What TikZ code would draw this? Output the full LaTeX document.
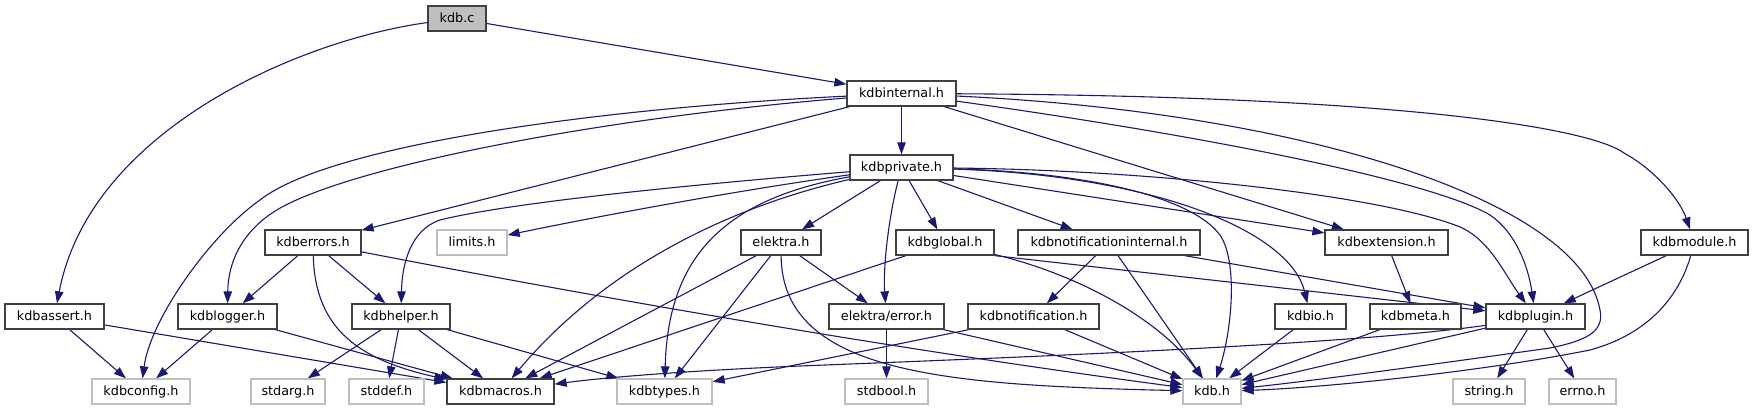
\documentclass[tikz,border=0pt]{standalone}
\usepackage{fontspec}
\setmainfont{DejaVu Sans}
\usetikzlibrary{arrows.meta}
\definecolor{edgecol}{HTML}{191970}
\definecolor{docborder}{HTML}{404040}
\definecolor{sysborder}{HTML}{BFBFBF}
\definecolor{rootfill}{HTML}{BFBFBF}
\pgfdeclarelayer{background}
\pgfsetlayers{background,main}
\begin{document}
\begin{tikzpicture}[x=1pt,y=-1pt,
  font=\fontsize{12.8}{15}\selectfont,
  box/.style={draw=docborder, line width=1.3pt, fill=white, inner sep=0pt,
    minimum height=25pt, text height=10.5pt, text depth=2pt},
  sys/.style={box, draw=sysborder},
  root/.style={box, fill=rootfill},
  edge/.style={draw=edgecol, line width=1.1pt, -{Triangle[length=12pt,width=8.5pt]}}]
\useasboundingbox (0,0) rectangle (1753,411);
% rank 0
\node[root, minimum width=58pt] (kdbc) at (457,18.5) {kdb.c};
% rank 1
\node[box, minimum width=109pt] (internal) at (901.5,93.5) {kdbinternal.h};
% rank 2
\node[box, minimum width=103pt] (private) at (901.5,167.5) {kdbprivate.h};
% rank 3
\node[box, minimum width=96pt] (errors) at (313,242.5) {kdberrors.h};
\node[sys, minimum width=70pt] (limits) at (472,242.5) {limits.h};
\node[box, minimum width=80pt] (elektra) at (781,242.5) {elektra.h};
\node[box, minimum width=98pt] (global) at (945,242.5) {kdbglobal.h};
\node[box, minimum width=182pt] (notifint) at (1109,242.5) {kdbnotificationinternal.h};
\node[box, minimum width=123pt] (extension) at (1386.5,242.5) {kdbextension.h};
\node[box, minimum width=107pt] (module) at (1694.5,242.5) {kdbmodule.h};
% rank 4
\node[box, minimum width=99pt] (assert) at (54.5,316.5) {kdbassert.h};
\node[box, minimum width=99pt] (logger) at (227.5,316.5) {kdblogger.h};
\node[box, minimum width=98pt] (helper) at (401,316.5) {kdbhelper.h};
\node[box, minimum width=115pt] (error) at (886.5,316.5) {elektra/error.h};
\node[box, minimum width=131pt] (notif) at (1033.5,316.5) {kdbnotification.h};
\node[box, minimum width=71pt] (io) at (1310.5,316.5) {kdbio.h};
\node[box, minimum width=91pt] (meta) at (1415.5,316.5) {kdbmeta.h};
\node[box, minimum width=99pt] (plugin) at (1535.5,316.5) {kdbplugin.h};
% rank 5
\node[sys, minimum width=98pt] (config) at (141,391.5) {kdbconfig.h};
\node[sys, minimum width=74pt] (stdarg) at (288,391.5) {stdarg.h};
\node[sys, minimum width=75pt] (stddef) at (386.5,391.5) {stddef.h};
\node[box, minimum width=107pt] (macros) at (500.5,391.5) {kdbmacros.h};
\node[sys, minimum width=95pt] (types) at (664.5,391.5) {kdbtypes.h};
\node[sys, minimum width=83pt] (stdbool) at (886.5,391.5) {stdbool.h};
\node[sys, minimum width=58pt] (kdbh) at (1212,391.5) {kdb.h};
\node[sys, minimum width=72pt] (string) at (1489,391.5) {string.h};
\node[sys, minimum width=67pt] (errno) at (1582.5,391.5) {errno.h};

\begin{pgfonlayer}{background}
% kdb.c
\draw[edge] (kdbc) -- (internal);
\draw[edge] (kdbc) .. controls (300,40) and (90,130) .. (assert);
% kdbinternal.h
\draw[edge] (internal) -- (private);
\draw[edge] (internal) .. controls (600,108) and (330,145) .. (260,200)
  .. controls (210,235) and (150,320) .. (config);
\draw[edge] (internal) .. controls (600,118) and (360,165) .. (282,207)
  .. controls (240,230) and (228,265) .. (logger);
\draw[edge] (internal) -- (errors);
\draw[edge] (internal) -- (extension);
\draw[edge] (internal) .. controls (1200,135) and (1430,180) .. (1490,215)
  .. controls (1515,232) and (1528,265) .. (plugin);
\draw[edge] (internal) .. controls (1300,112) and (1580,200) .. (1600,310)
  .. controls (1604,330) and (1590,340) .. (1550,348)
  .. controls (1450,362) and (1320,380) .. (kdbh);
\draw[edge] (internal) .. controls (1400,96) and (1590,128) .. (1624,153)
  .. controls (1655,170) and (1680,200) .. (module);
% kdbprivate.h
\draw[edge] (private) .. controls (650,188) and (500,205) .. (440,220)
  .. controls (410,230) and (402,265) .. (helper);
\draw[edge] (private) .. controls (720,193) and (580,220) .. (limits);
\draw[edge] (private) .. controls (760,200) and (620,250) .. (macros);
\draw[edge] (private) .. controls (720,200) and (668,260) .. (types);
\draw[edge] (private) -- (elektra);
\draw[edge] (private) .. controls (888,220) and (883,270) .. (error);
\draw[edge] (private) -- (global);
\draw[edge] (private) -- (notifint);
\draw[edge] (private) -- (extension);
\draw[edge] (private) .. controls (1150,175) and (1290,230) .. (io);
\draw[edge] (private) .. controls (1080,172) and (1190,195) .. (1220,235)
  .. controls (1238,262) and (1232,330) .. (kdbh);
\draw[edge] (private) .. controls (1150,170) and (1380,195) .. (1460,227)
  .. controls (1490,240) and (1505,275) .. (plugin);
% kdberrors.h
\draw[edge] (errors) -- (logger);
\draw[edge] (errors) -- (helper);
\draw[edge] (errors) .. controls (315,330) and (360,360) .. (macros);
\draw[edge] (errors) .. controls (600,298) and (900,350) .. (kdbh);
% kdbassert.h, kdblogger.h
\draw[edge] (assert) -- (config);
\draw[edge] (assert) -- (macros);
\draw[edge] (logger) -- (config);
\draw[edge] (logger) -- (macros);
% kdbhelper.h
\draw[edge] (helper) -- (stdarg);
\draw[edge] (helper) -- (stddef);
\draw[edge] (helper) -- (macros);
\draw[edge] (helper) -- (types);
% elektra.h
\draw[edge] (elektra) -- (macros);
\draw[edge] (elektra) -- (types);
\draw[edge] (elektra) -- (error);
\draw[edge] (elektra) .. controls (782,375) and (950,385) .. (kdbh);
% elektra/error.h
\draw[edge] (error) -- (stdbool);
\draw[edge] (error) -- (kdbh);
% kdbglobal.h
\draw[edge] (global) -- (macros);
\draw[edge] (global.south east) -- (plugin);
\draw[edge] (global) .. controls (1080,275) and (1160,320) .. (kdbh);
% kdbnotificationinternal.h
\draw[edge] (notifint) -- (notif);
\draw[edge] (notifint) -- (kdbh);
\draw[edge] (notifint) -- (plugin);
% kdbnotification.h
\draw[edge] (notif) -- (types);
\draw[edge] (notif) -- (kdbh);
% kdbextension.h, kdbmeta.h, kdbio.h
\draw[edge] (extension) -- (meta);
\draw[edge] (meta) -- (kdbh);
\draw[edge] (io) -- (kdbh);
% kdbplugin.h
\draw[edge] (plugin.190) .. controls (1350,345) and (1000,358) .. (800,366)
  .. controls (680,371) and (600,378) .. (macros);
\draw[edge] (plugin) -- (kdbh);
\draw[edge] (plugin) -- (string);
\draw[edge] (plugin) -- (errno);
% kdbmodule.h
\draw[edge] (module) -- (plugin);
\draw[edge] (module) .. controls (1678,300) and (1645,335) .. (1590,350)
  .. controls (1480,372) and (1320,388) .. (kdbh);
\end{pgfonlayer}
\end{tikzpicture}
\end{document}
